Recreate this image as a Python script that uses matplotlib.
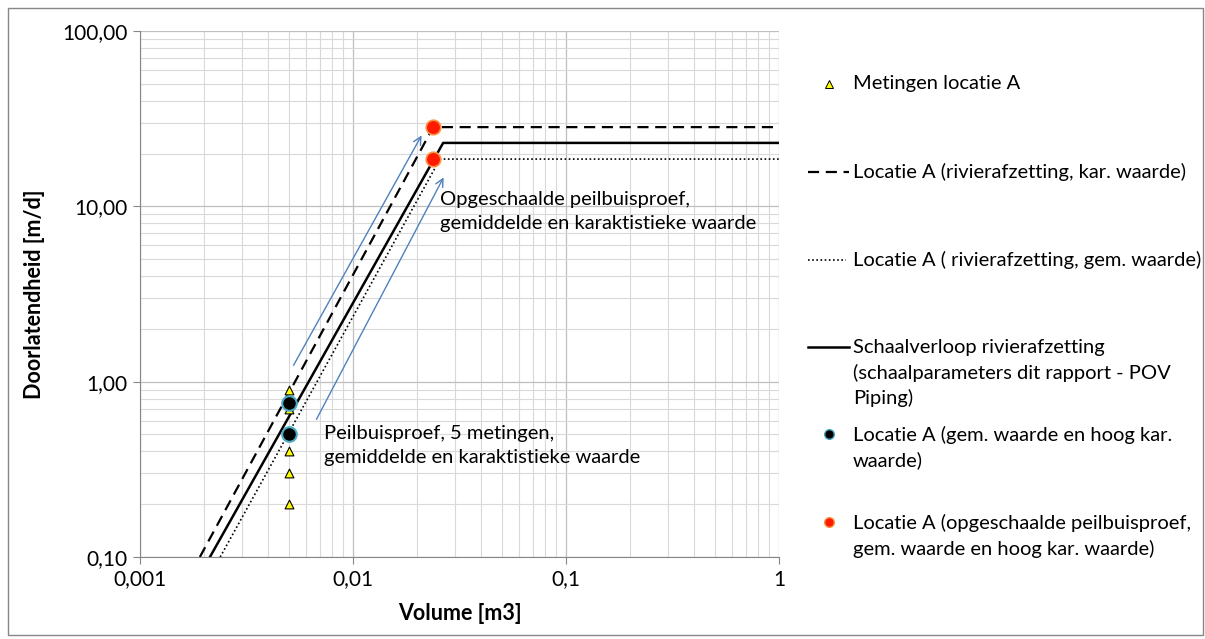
import matplotlib
matplotlib.use('Agg')
import matplotlib.pyplot as plt
from matplotlib.lines import Line2D
from matplotlib.patches import Rectangle
from matplotlib.ticker import FixedLocator, LogLocator, NullFormatter

plt.rcParams['font.family'] = ['Lato', 'DejaVu Sans']

# meetdata locatie A (volume [m3], doorlatendheid [m/d])
meting_x = [0.005, 0.005, 0.005, 0.005, 0.005]
meting_y = [0.9, 0.7, 0.4, 0.3, 0.2]

gem_kar_x = [0.005, 0.005]
gem_kar_y = [0.76, 0.50]

opgeschaald_x = [0.0238, 0.0238]
opgeschaald_y = [28.3, 18.6]

# schaalverloop lijnen
kar_x = [0.00191, 0.0238, 1.0]
kar_y = [0.1, 28.3, 28.3]
gem_x = [0.00238, 0.0256, 1.0]
gem_y = [0.1, 18.6, 18.6]
schaal_x = [0.00213, 0.0265, 1.0]
schaal_y = [0.1, 23.0, 23.0]

# pijlen (start, eind)
pijl_1 = [(0.00518, 1.2), (0.0213, 26.2)]
pijl_2 = [(0.00664, 0.59), (0.0270, 15.1)]

x_ticks = [0.001, 0.01, 0.1, 1]
x_labels = ['0,001', '0,01', '0,1', '1']
y_ticks = [0.1, 1, 10, 100]
y_labels = ['0,10', '1,00', '10,00', '100,00']

FS = 14.5
LS = 1.5

W, H = 1205, 639
fig = plt.figure(figsize=(W / 100, H / 100), dpi=100)
ax = fig.add_axes([140 / W, 1 - 557 / H, (779 - 140) / W, (557 - 31) / H])

ax.set_xscale('log')
ax.set_yscale('log')
ax.set_xlim(0.001, 1)
ax.set_ylim(0.1, 100)

ax.plot(kar_x, kar_y, color='black', lw=1.6, dashes=(5, 3))
ax.plot(gem_x, gem_y, color='black', lw=1.2, linestyle=(0, (1, 1.5)))
ax.plot(schaal_x, schaal_y, color='black', lw=1.8)

ax.scatter(meting_x, meting_y, marker='^', s=40, facecolor='#FFFF00',
           edgecolor='black', linewidth=0.8, zorder=3)
ax.scatter(gem_kar_x, gem_kar_y, marker='o', s=110, facecolor='black',
           edgecolor='#4BACC6', linewidth=1.5, zorder=4)
ax.scatter(opgeschaald_x, opgeschaald_y, marker='o', s=110, facecolor='#FF1A00',
           edgecolor='#F79646', linewidth=1.2, zorder=4)

for (x0, y0), (x1, y1) in [pijl_1, pijl_2]:
    ax.annotate('', xy=(x1, y1), xytext=(x0, y0),
                arrowprops=dict(arrowstyle='->', color='#4F81BD', lw=1.0,
                                mutation_scale=14))

ax.text(0.0256, 9.3, 'Opgeschaalde peilbuisproef,\ngemiddelde en karaktistieke waarde',
        fontsize=FS, va='center', ha='left', linespacing=LS)
ax.text(0.0073, 0.43, 'Peilbuisproef, 5 metingen,\ngemiddelde en karaktistieke waarde',
        fontsize=FS, va='center', ha='left', linespacing=LS)

ax.xaxis.set_major_locator(FixedLocator(x_ticks))
ax.yaxis.set_major_locator(FixedLocator(y_ticks))
ax.set_xticklabels(x_labels)
ax.set_yticklabels(y_labels)
ax.xaxis.set_minor_locator(LogLocator(base=10, subs=range(2, 10)))
ax.yaxis.set_minor_locator(LogLocator(base=10, subs=range(2, 10)))
ax.xaxis.set_minor_formatter(NullFormatter())
ax.yaxis.set_minor_formatter(NullFormatter())
ax.tick_params(which='major', length=5, color='#868686', labelsize=15, pad=4)
ax.tick_params(which='minor', length=0)

ax.grid(which='major', color='#BFBFBF', lw=0.9)
ax.grid(which='minor', color='#D9D9D9', lw=0.8)
ax.set_axisbelow(True)
for s in ['top', 'right']:
    ax.spines[s].set_visible(False)
for s in ['left', 'bottom']:
    ax.spines[s].set_color('#868686')

ax.set_xlabel('Volume [m3]', fontsize=15.5, fontweight='bold', labelpad=10)
ax.set_ylabel('Doorlatendheid [m/d]', fontsize=15.5, fontweight='bold', labelpad=12)

# legenda handmatig rechts
def fx(px):
    return px / W


def fy(py):
    return 1 - py / H


tx = fx(853)
off = 8 / H
fig.add_artist(Line2D([fx(829)], [fy(84)], marker='^', markersize=6,
                      markerfacecolor='#FFFF00', markeredgecolor='black',
                      markeredgewidth=0.7, linestyle='none'))
fig.text(tx, fy(83), 'Metingen locatie A', fontsize=FS, va='center')

fig.add_artist(Line2D([fx(808), fx(849)], [fy(172), fy(172)], color='black',
                      lw=1.6, dashes=(5, 3)))
fig.text(tx, fy(172), 'Locatie A (rivierafzetting, kar. waarde)', fontsize=FS, va='center')

fig.add_artist(Line2D([fx(808), fx(846)], [fy(260), fy(260)], color='black',
                      lw=1.2, linestyle=(0, (1, 1.5))))
fig.text(tx, fy(260), 'Locatie A ( rivierafzetting, gem. waarde)', fontsize=FS, va='center')

fig.add_artist(Line2D([fx(808), fx(849)], [fy(347), fy(347)], color='black', lw=1.8))
fig.text(tx, fy(347) + off,
         'Schaalverloop rivierafzetting\n(schaalparameters dit rapport - POV\nPiping)',
         fontsize=FS, va='top', linespacing=LS)

fig.add_artist(Line2D([fx(829)], [fy(434)], marker='o', markersize=7,
                      markerfacecolor='black', markeredgecolor='#4BACC6',
                      markeredgewidth=1.0, linestyle='none'))
fig.text(tx, fy(434) + off, 'Locatie A (gem. waarde en hoog kar.\nwaarde)',
         fontsize=FS, va='top', linespacing=LS)

fig.add_artist(Line2D([fx(829)], [fy(522)], marker='o', markersize=7,
                      markerfacecolor='#FF1A00', markeredgecolor='#F79646',
                      markeredgewidth=1.0, linestyle='none'))
fig.text(tx, fy(522) + off,
         'Locatie A (opgeschaalde peilbuisproef,\ngem. waarde en hoog kar. waarde)',
         fontsize=FS, va='top', linespacing=LS)

fig.add_artist(Rectangle((fx(8), fy(635)), fx(1195), (635 - 8) / H, fill=False,
                         edgecolor='#868686', lw=1.0, transform=fig.transFigure))

fig.savefig('out.png', dpi=100)
